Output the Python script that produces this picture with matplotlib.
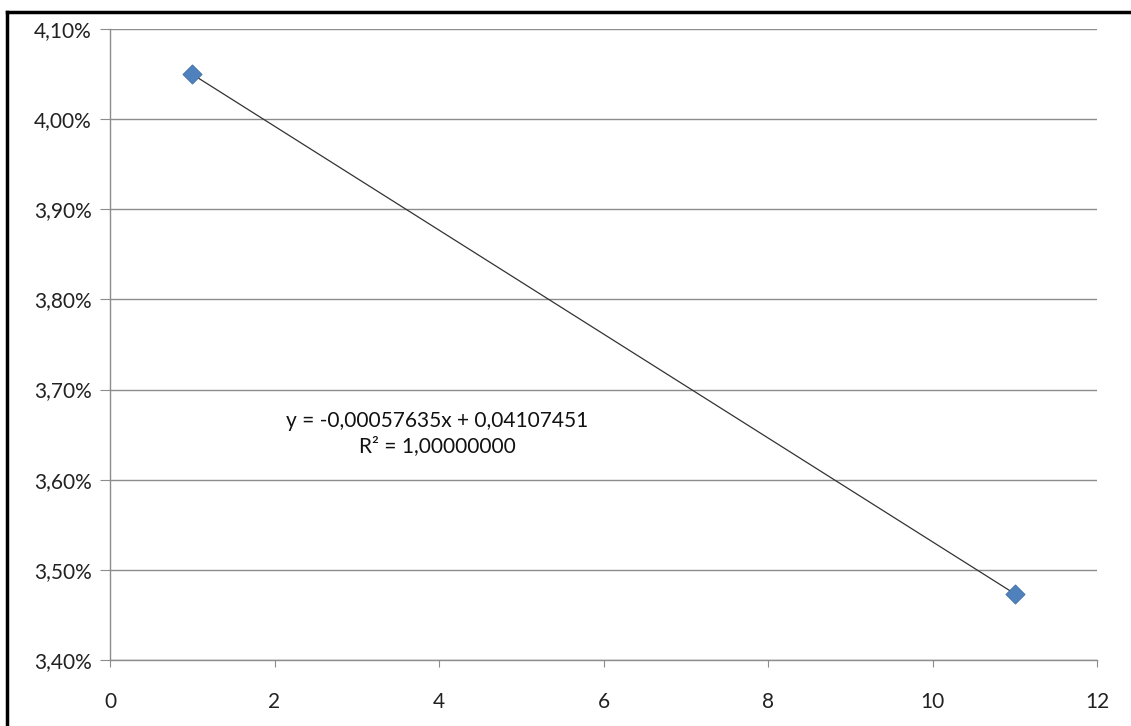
import matplotlib
matplotlib.use("Agg")
import matplotlib.pyplot as plt
from matplotlib.ticker import FuncFormatter, MultipleLocator
from matplotlib.lines import Line2D

x_vals = [1, 11]
y_vals = [0.04049816, 0.03473466]
slope = -0.00057635
intercept = 0.04107451
eq_text = "y = -0,00057635x + 0,04107451\nR² = 1,00000000"

plt.rcParams['font.family'] = ['Lato', 'DejaVu Sans']

fig = plt.figure(figsize=(11.31, 7.26), dpi=100)
ax = fig.add_axes([110/1131, 1-660/726, (1097-110)/1131, (660-29)/726])

grid_c = '#8c8c8c'
ax.set_xlim(0, 12)
ax.set_ylim(0.034, 0.041)
ax.xaxis.set_major_locator(MultipleLocator(2))
ax.yaxis.set_major_locator(MultipleLocator(0.001))
ax.yaxis.set_major_formatter(FuncFormatter(lambda v, p: f"{v*100:.2f}%".replace('.', ',')))
ax.grid(axis='y', color=grid_c, linewidth=1.0)
ax.set_axisbelow(True)
for s in ['top', 'right']:
    ax.spines[s].set_visible(False)
for s in ['left', 'bottom']:
    ax.spines[s].set_color(grid_c)
    ax.spines[s].set_linewidth(1.0)
ax.tick_params(axis='y', length=7, color=grid_c, labelsize=15, pad=6, labelcolor='#222222')
ax.tick_params(axis='x', length=5, color=grid_c, labelsize=15, pad=18, labelcolor='#222222')

tx = [x_vals[0], x_vals[-1]]
ty = [slope * t + intercept for t in tx]
ax.plot(tx, ty, color='#333333', linewidth=0.9, zorder=3)
ax.scatter(x_vals, y_vals, marker='D', s=95, color='#4F81BD', edgecolors='#3f6fa8', linewidths=0.6, zorder=4)

ax.text(3.98, 0.03651, eq_text, ha='center', va='center', fontsize=15, color='#111111', linespacing=1.35)

# outer frame (top and left)
fig.add_artist(Line2D([7/1131, 1], [1-12/726, 1-12/726], color='black', linewidth=2.5, transform=fig.transFigure))
fig.add_artist(Line2D([7/1131, 7/1131], [0, 1-12/726], color='black', linewidth=2.5, transform=fig.transFigure))

fig.savefig('out.png', dpi=100)
